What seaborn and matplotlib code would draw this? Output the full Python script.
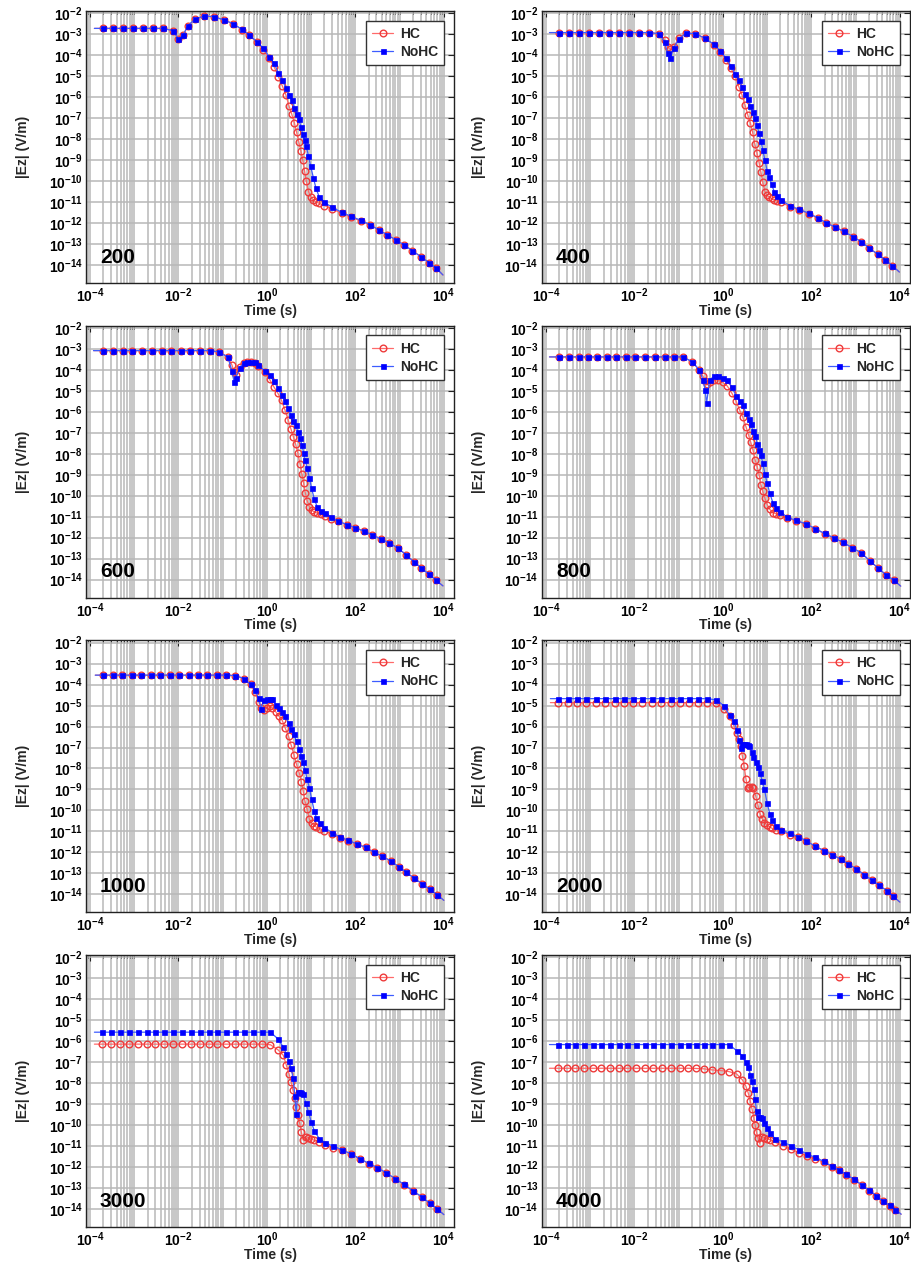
import numpy as np
import seaborn as sns
import matplotlib.pyplot as plt
from matplotlib.ticker import FixedLocator, LogLocator, LogFormatterSciNotation, NullLocator, NullFormatter

# values as log10(time [s]) and log10(|Ez| [V/m])
t200 = [-3.9, -3.7, -3.47, -3.25, -3.02, -2.8, -2.57, -2.35,
        -2.12, -2.0, -1.89, -1.79, -1.63, -1.42, -1.2, -0.97, -0.76, -0.57,
        -0.4, -0.23, -0.08, 0.05, 0.16, 0.26, 0.35, 0.43, 0.5, 0.56,
        0.62, 0.67, 0.72, 0.77, 0.81, 0.85, 0.89, 0.94, 0.99, 1.05,
        1.11, 1.18, 1.3, 1.48, 1.69, 1.91, 2.12, 2.33, 2.53, 2.72,
        2.92, 3.1, 3.29, 3.48, 3.67, 3.83, 3.98]
hc200 = [-2.72, -2.72, -2.72, -2.72, -2.72, -2.72, -2.72, -2.72,
         -2.83, -3.24, -3.03, -2.6, -2.29, -2.13, -2.16, -2.32, -2.5, -2.78,
         -3.05, -3.38, -3.74, -4.15, -4.54, -5.02, -5.47, -5.9, -6.42, -6.8,
         -7.22, -7.66, -8.12, -8.58, -9.0, -9.5, -10.0, -10.5, -10.75, -10.9,
         -11.0, -11.06, -11.17, -11.33, -11.54, -11.73, -11.9, -12.1, -12.33, -12.57,
         -12.81, -13.05, -13.32, -13.61, -13.89, -14.16, -14.48]
nohc200 = [-2.72, -2.72, -2.72, -2.72, -2.72, -2.72, -2.72, -2.72,
           -2.83, -3.24, -3.03, -2.6, -2.29, -2.13, -2.16, -2.32, -2.5, -2.76,
           -3.03, -3.35, -3.67, -4.07, -4.38, -4.83, -5.2, -5.55, -5.9, -6.13,
           -6.5, -6.8, -7.06, -7.42, -7.75, -8.05, -8.35, -8.8, -9.3, -9.84,
           -10.35, -10.74, -11.02, -11.26, -11.49, -11.69, -11.87, -12.08, -12.33, -12.57,
           -12.81, -13.05, -13.32, -13.61, -13.89, -14.16, -14.48]

t400 = [-3.92, -3.7, -3.47, -3.25, -3.02, -2.8, -2.57, -2.35, -2.12, -1.9,
        -1.68, -1.45, -1.32, -1.25, -1.19, -1.11, -1.0, -0.83, -0.62, -0.4,
        -0.21, -0.06, 0.07, 0.18, 0.28, 0.36, 0.43, 0.5, 0.56, 0.62,
        0.67, 0.72, 0.77, 0.82, 0.86, 0.9, 0.95, 1.0, 1.05, 1.1,
        1.16, 1.23, 1.31, 1.51, 1.71, 1.94, 2.14, 2.34, 2.54, 2.73,
        2.94, 3.13, 3.31, 3.5, 3.67, 3.83, 3.99]
hc400 = [-2.92, -2.92, -2.92, -2.92, -2.92, -2.92, -2.92, -2.92, -2.92, -2.92,
         -2.92, -2.97, -3.27, -3.6, -3.72, -3.6, -3.2, -2.95, -2.97, -3.2,
         -3.5, -3.85, -4.22, -4.63, -5.0, -5.5, -5.88, -6.37, -6.83, -7.22,
         -7.65, -8.22, -8.65, -9.14, -9.58, -10.04, -10.5, -10.68, -10.78, -10.83,
         -10.9, -10.95, -11.0, -11.22, -11.37, -11.55, -11.77, -12.0, -12.2, -12.4,
         -12.65, -12.9, -13.2, -13.49, -13.76, -14.03, -14.34]
nohc400 = [-2.92, -2.92, -2.92, -2.92, -2.92, -2.92, -2.92, -2.92, -2.92, -2.92,
           -2.92, -2.97, -3.35, -3.9, -4.15, -3.65, -3.22, -2.95, -2.97, -3.2,
           -3.47, -3.79, -4.15, -4.5, -4.9, -5.2, -5.5, -5.83, -6.1, -6.4,
           -6.7, -7.0, -7.35, -7.7, -8.1, -8.5, -9.0, -9.5, -9.8, -10.15,
           -10.5, -10.72, -10.9, -11.17, -11.34, -11.53, -11.75, -12.0, -12.2, -12.4,
           -12.65, -12.9, -13.2, -13.49, -13.76, -14.03, -14.34]

t600 = [-3.92, -3.7, -3.48, -3.25, -3.04, -2.82, -2.6, -2.38, -2.17, -1.95,
        -1.74, -1.51, -1.29, -1.08, -0.88, -0.79, -0.74, -0.71, -0.61, -0.52,
        -0.44, -0.36, -0.28, -0.2, -0.05, 0.06, 0.16, 0.25, 0.33, 0.41,
        0.48, 0.54, 0.6, 0.65, 0.7, 0.75, 0.79, 0.83, 0.87, 0.91,
        0.96, 1.01, 1.07, 1.14, 1.22, 1.32, 1.45, 1.6, 1.81, 2.0,
        2.19, 2.37, 2.57, 2.77, 2.96, 3.15, 3.32, 3.49, 3.66, 3.83, 3.98]
hc600 = [-3.08, -3.08, -3.08, -3.08, -3.08, -3.08, -3.08, -3.08, -3.08, -3.08,
         -3.08, -3.08, -3.08, -3.14, -3.38, -3.77, -4.1, -4.25, -3.86, -3.65,
         -3.62, -3.62, -3.66, -3.82, -4.1, -4.45, -4.82, -5.12, -5.45, -5.92,
         -6.38, -6.8, -7.2, -7.55, -7.98, -8.5, -8.95, -9.4, -9.88, -10.24,
         -10.52, -10.68, -10.78, -10.83, -10.88, -10.97, -11.1, -11.22, -11.38, -11.53,
         -11.69, -11.85, -12.06, -12.25, -12.5, -12.82, -13.15, -13.43, -13.75, -14.04, -14.3]
nohc600 = [-3.08, -3.08, -3.08, -3.08, -3.08, -3.08, -3.08, -3.08, -3.08, -3.08,
           -3.08, -3.08, -3.08, -3.14, -3.4, -4.06, -4.6, -4.4, -3.9, -3.65,
           -3.6, -3.6, -3.62, -3.75, -4.05, -4.25, -4.55, -4.85, -5.2, -5.48,
           -5.82, -6.15, -6.42, -6.65, -6.95, -7.25, -7.58, -7.95, -8.3, -8.7,
           -9.15, -9.65, -10.15, -10.55, -10.72, -10.84, -11.02, -11.2, -11.38, -11.53,
           -11.69, -11.85, -12.06, -12.25, -12.5, -12.82, -13.15, -13.43, -13.75, -14.04, -14.3]

t800 = [-3.92, -3.7, -3.48, -3.26, -3.05, -2.84, -2.62, -2.41, -2.19, -1.98,
        -1.77, -1.54, -1.32, -1.11, -0.9, -0.69, -0.53, -0.45, -0.4, -0.37,
        -0.3, -0.2, -0.1, 0.0, 0.1, 0.2, 0.3, 0.38, 0.45, 0.52,
        0.58, 0.63, 0.68, 0.73, 0.78, 0.82, 0.86, 0.9, 0.95, 1.0,
        1.06, 1.13, 1.2, 1.28, 1.46, 1.66, 1.89, 2.09, 2.3, 2.52,
        2.72, 2.91, 3.12, 3.32, 3.51, 3.68, 3.87, 4.02]
hc800 = [-3.38, -3.38, -3.38, -3.38, -3.38, -3.38, -3.38, -3.38, -3.38, -3.38,
         -3.38, -3.38, -3.38, -3.38, -3.38, -3.62, -4.01, -4.3, -4.55, -4.65,
         -4.6, -4.5, -4.47, -4.6, -4.77, -5.1, -5.5, -5.92, -6.25, -6.7,
         -7.1, -7.45, -7.82, -8.3, -8.65, -9.01, -9.47, -9.78, -10.12, -10.42,
         -10.65, -10.8, -10.86, -10.93, -11.06, -11.21, -11.37, -11.59, -11.81, -12.03,
         -12.22, -12.47, -12.71, -13.1, -13.45, -13.76, -14.04, -14.31]
nohc800 = [-3.38, -3.38, -3.38, -3.38, -3.38, -3.38, -3.38, -3.38, -3.38, -3.38,
           -3.38, -3.38, -3.38, -3.38, -3.38, -3.62, -4.01, -4.48, -4.96, -5.6,
           -4.5, -4.3, -4.27, -4.38, -4.5, -4.8, -5.25, -5.5, -5.68, -6.05,
           -6.35, -6.6, -6.9, -7.15, -7.53, -7.8, -8.07, -8.45, -8.95, -9.39,
           -9.88, -10.33, -10.58, -10.76, -11.02, -11.18, -11.35, -11.57, -11.8, -12.02,
           -12.22, -12.47, -12.71, -13.1, -13.45, -13.76, -14.04, -14.31]

t1000 = [-3.88, -3.7, -3.49, -3.27, -3.06, -2.84, -2.63, -2.42, -2.2, -1.99,
         -1.77, -1.56, -1.35, -1.13, -0.93, -0.72, -0.52, -0.37, -0.27, -0.19,
         -0.13, -0.07, 0.0, 0.06, 0.12, 0.2, 0.27, 0.34, 0.41, 0.49,
         0.55, 0.61, 0.67, 0.73, 0.78, 0.82, 0.86, 0.91, 0.96, 1.01,
         1.07, 1.12, 1.2, 1.3, 1.47, 1.65, 1.84, 2.04, 2.23, 2.42,
         2.61, 2.8, 2.98, 3.15, 3.32, 3.51, 3.68, 3.85, 4.0]
hc1000 = [-3.55, -3.55, -3.55, -3.55, -3.55, -3.55, -3.55, -3.55, -3.55, -3.55,
          -3.55, -3.55, -3.55, -3.55, -3.55, -3.57, -3.71, -3.99, -4.35, -4.81,
          -5.1, -5.22, -5.1, -5.0, -5.1, -5.3, -5.5, -5.68, -6.05, -6.47,
          -6.9, -7.34, -7.81, -8.2, -8.65, -9.08, -9.55, -9.94, -10.42, -10.6,
          -10.72, -10.8, -10.88, -10.97, -11.13, -11.32, -11.45, -11.61, -11.76, -12.0,
          -12.18, -12.42, -12.68, -12.95, -13.22, -13.5, -13.76, -14.02, -14.29]
nohc1000 = [-3.55, -3.55, -3.55, -3.55, -3.55, -3.55, -3.55, -3.55, -3.55, -3.55,
            -3.55, -3.55, -3.55, -3.55, -3.55, -3.57, -3.71, -3.99, -4.26, -4.65,
            -5.15, -4.75, -4.7, -4.7, -4.7, -4.95, -5.1, -5.3, -5.48, -5.85,
            -6.1, -6.37, -6.7, -7.05, -7.4, -7.68, -8.05, -8.52, -8.92, -9.46,
            -10.02, -10.35, -10.62, -10.82, -11.06, -11.27, -11.42, -11.61, -11.76, -12.0,
            -12.18, -12.42, -12.68, -12.95, -13.22, -13.5, -13.76, -14.02, -14.29]

t2000 = [-3.9, -3.72, -3.51, -3.3, -3.09, -2.87, -2.66, -2.45, -2.24, -2.03,
         -1.82, -1.61, -1.4, -1.18, -0.98, -0.77, -0.57, -0.35, -0.15, 0.02,
         0.15, 0.24, 0.32, 0.36, 0.4, 0.44, 0.48, 0.52, 0.56, 0.6,
         0.65, 0.69, 0.74, 0.79, 0.84, 0.89, 0.94, 1.0, 1.06, 1.12,
         1.2, 1.31, 1.51, 1.7, 1.89, 2.09, 2.29, 2.47, 2.66, 2.83,
         3.02, 3.19, 3.36, 3.52, 3.7, 3.85, 4.0]
hc2000 = [-4.86, -4.86, -4.86, -4.86, -4.86, -4.86, -4.86, -4.86, -4.86, -4.86,
          -4.86, -4.86, -4.86, -4.86, -4.86, -4.86, -4.86, -4.86, -4.9, -5.16,
          -5.52, -5.92, -6.31, -6.6, -6.95, -7.4, -7.9, -8.48, -8.92, -8.88,
          -8.87, -8.95, -9.3, -9.72, -10.15, -10.4, -10.58, -10.7, -10.8, -10.86,
          -10.92, -11.0, -11.15, -11.28, -11.47, -11.72, -11.92, -12.11, -12.32, -12.55,
          -12.79, -13.06, -13.31, -13.55, -13.82, -14.1, -14.37]
nohc2000 = [-4.67, -4.67, -4.67, -4.67, -4.67, -4.67, -4.67, -4.67, -4.67, -4.67,
            -4.67, -4.67, -4.67, -4.67, -4.67, -4.67, -4.67, -4.67, -4.73, -5.0,
            -5.45, -5.76, -6.15, -6.65, -7.0, -6.85, -6.83, -6.85, -6.88, -6.95,
            -7.2, -7.45, -7.7, -7.95, -8.2, -8.6, -9.0, -9.65, -10.15, -10.45,
            -10.75, -10.92, -11.1, -11.25, -11.45, -11.72, -11.92, -12.11, -12.32, -12.55,
            -12.79, -13.06, -13.31, -13.55, -13.82, -14.1, -14.37]

t3000 = [-3.9, -3.72, -3.52, -3.32, -3.12, -2.92, -2.72, -2.52, -2.32, -2.12,
         -1.92, -1.72, -1.52, -1.32, -1.12, -0.92, -0.72, -0.52, -0.32, -0.12,
         0.08, 0.25, 0.37, 0.44, 0.5, 0.55, 0.59, 0.63, 0.66, 0.7,
         0.74, 0.78, 0.82, 0.88, 0.94, 1.0, 1.07, 1.18, 1.32, 1.5,
         1.7, 1.9, 2.1, 2.3, 2.5, 2.7, 2.9, 3.1, 3.3, 3.5,
         3.68, 3.85, 4.0]
hc3000 = [-6.14, -6.14, -6.14, -6.14, -6.14, -6.14, -6.14, -6.14, -6.14, -6.14,
          -6.14, -6.14, -6.14, -6.14, -6.14, -6.14, -6.14, -6.14, -6.14, -6.14,
          -6.17, -6.41, -6.67, -7.15, -7.55, -7.95, -8.35, -8.7, -9.13, -9.52,
          -9.91, -10.35, -10.72, -10.55, -10.6, -10.68, -10.72, -10.8, -10.95, -11.08,
          -11.2, -11.38, -11.62, -11.84, -12.05, -12.3, -12.57, -12.85, -13.15, -13.43,
          -13.73, -13.99, -14.27]
nohc3000 = [-5.57, -5.57, -5.57, -5.57, -5.57, -5.57, -5.57, -5.57, -5.57, -5.57,
            -5.57, -5.57, -5.57, -5.57, -5.57, -5.57, -5.57, -5.57, -5.57, -5.57,
            -5.57, -5.89, -6.28, -6.6, -6.95, -7.3, -7.75, -8.59, -9.45, -8.43,
            -8.43, -8.45, -8.51, -8.95, -9.37, -9.84, -10.26, -10.64, -10.85, -11.0,
            -11.18, -11.37, -11.6, -11.82, -12.03, -12.28, -12.55, -12.83, -13.13, -13.42,
            -13.72, -13.99, -14.27]

t4000 = [-3.92, -3.73, -3.53, -3.34, -3.14, -2.94, -2.75, -2.55, -2.35, -2.16,
         -1.96, -1.76, -1.57, -1.37, -1.17, -0.98, -0.79, -0.61, -0.42, -0.24,
         -0.05, 0.14, 0.31, 0.44, 0.52, 0.57, 0.62, 0.66, 0.7, 0.73,
         0.76, 0.79, 0.83, 0.88, 0.94, 1.0, 1.07, 1.18, 1.35, 1.53,
         1.72, 1.9, 2.09, 2.28, 2.46, 2.62, 2.79, 2.96, 3.14, 3.3,
         3.47, 3.62, 3.78, 3.9, 4.03]
hc4000 = [-7.29, -7.29, -7.29, -7.29, -7.29, -7.29, -7.29, -7.29, -7.29, -7.29,
          -7.29, -7.29, -7.29, -7.29, -7.29, -7.29, -7.29, -7.3, -7.32, -7.37,
          -7.4, -7.45, -7.56, -7.84, -8.15, -8.45, -8.85, -9.25, -9.65, -10.0,
          -10.35, -10.6, -10.87, -10.56, -10.6, -10.65, -10.7, -10.82, -10.98, -11.15,
          -11.31, -11.47, -11.6, -11.78, -11.98, -12.14, -12.37, -12.6, -12.87, -13.12,
          -13.38, -13.64, -13.85, -14.05, -14.25]
nohc4000 = [-6.16, -6.16, -6.16, -6.16, -6.16, -6.16, -6.16, -6.16, -6.16, -6.16,
            -6.16, -6.16, -6.16, -6.16, -6.16, -6.16, -6.16, -6.16, -6.16, -6.16,
            -6.16, -6.16, -6.45, -6.7, -7.0, -7.25, -7.6, -7.92, -8.3, -8.77,
            -9.35, -9.63, -9.63, -9.66, -9.9, -10.15, -10.4, -10.64, -10.79, -10.98,
            -11.18, -11.38, -11.54, -11.73, -11.96, -12.12, -12.35, -12.58, -12.85, -13.1,
            -13.36, -13.64, -13.83, -14.03, -14.25]

panel_names = ["200", "400", "600", "800", "1000", "2000", "3000", "4000"]
panel_t = [t200, t400, t600, t800, t1000, t2000, t3000, t4000]
panel_hc = [hc200, hc400, hc600, hc800, hc1000, hc2000, hc3000, hc4000]
panel_nohc = [nohc200, nohc400, nohc600, nohc800, nohc1000, nohc2000, nohc3000, nohc4000]

red = "#ee3b3b"
red_line = "#ff6a6a"
blue = "#0000ff"
blue_line = "#3d5cff"

sns.set_style("white")
plt.rcParams["font.family"] = ["Liberation Sans", "DejaVu Sans"]
plt.rcParams["font.weight"] = "bold"
plt.rcParams["mathtext.fontset"] = "custom"
plt.rcParams["mathtext.rm"] = "Liberation Sans:bold"
plt.rcParams["mathtext.it"] = "Liberation Sans:bold"
plt.rcParams["mathtext.bf"] = "Liberation Sans:bold"
plt.rcParams["mathtext.default"] = "rm"

fig, axes = plt.subplots(4, 2, figsize=(9.12, 12.63), dpi=100)
fig.subplots_adjust(left=0.0943, right=0.9978, bottom=0.0285, top=0.9913,
                    wspace=0.239, hspace=0.157)

for ax, name, t, hc, nohc in zip(axes.flat, panel_names, panel_t, panel_hc, panel_nohc):
    ax.set_xscale("log")
    ax.set_yscale("log")
    tt = 10.0 ** np.array(t)
    sns.lineplot(x=tt, y=10.0 ** np.array(hc), ax=ax, color=red_line, lw=0.9,
                 marker="o", ms=4.8, mfc="none", mec=red, mew=1.0,
                 markevery=slice(1, -1), label="HC")
    sns.lineplot(x=tt, y=10.0 ** np.array(nohc), ax=ax, color=blue_line, lw=0.9,
                 marker="s", ms=3.6, mfc=blue, mec=blue, mew=0.5,
                 markevery=slice(1, -1), label="NoHC")

    ax.set_xlim(10 ** -4.09, 10 ** 4.23)
    ax.set_ylim(10 ** -14.86, 10 ** -1.89)
    ax.xaxis.set_major_locator(FixedLocator([1e-4, 1e-2, 1e0, 1e2, 1e4]))
    ax.xaxis.set_major_formatter(LogFormatterSciNotation())
    ax.xaxis.set_minor_locator(LogLocator(base=10, subs=np.arange(1, 10), numticks=100))
    ax.xaxis.set_minor_formatter(NullFormatter())
    ax.yaxis.set_major_locator(FixedLocator(10.0 ** np.arange(-14, -1)))
    ax.yaxis.set_major_formatter(LogFormatterSciNotation())
    ax.yaxis.set_minor_locator(NullLocator())

    ax.set_axisbelow(True)
    ax.grid(True, which="major", axis="both", color="#b8b8b8", lw=1.1)
    ax.grid(True, which="minor", axis="x", color="#b8b8b8", lw=1.1)
    ax.tick_params(which="both", direction="in", top=True, right=True,
                   labelsize=10, colors="#222222", labelcolor="black")
    ax.tick_params(which="major", length=4, width=0.8, pad=2.5)
    ax.tick_params(which="minor", length=2.5, width=0.6)
    for sp in ax.spines.values():
        sp.set_visible(True)
        sp.set_color("#222222")
        sp.set_linewidth(1.0)

    ax.set_xlabel("Time (s)", fontsize=10, fontweight="bold", labelpad=-1)
    ax.set_ylabel("|Ez| (V/m)", fontsize=10, fontweight="bold", labelpad=13)
    ax.text(0.038, 0.075, name, transform=ax.transAxes, fontsize=15,
            fontweight="bold", color="black")

    leg = ax.legend(loc="upper right", numpoints=1, fancybox=False, frameon=True,
                    edgecolor="#333333", framealpha=1, handlelength=1.5,
                    borderaxespad=0.7, prop={"size": 10, "weight": "bold"},
                    labelspacing=0.3, handletextpad=0.5, borderpad=0.45)
    leg.get_frame().set_linewidth(1.0)

fig.savefig("out.png", dpi=100)
